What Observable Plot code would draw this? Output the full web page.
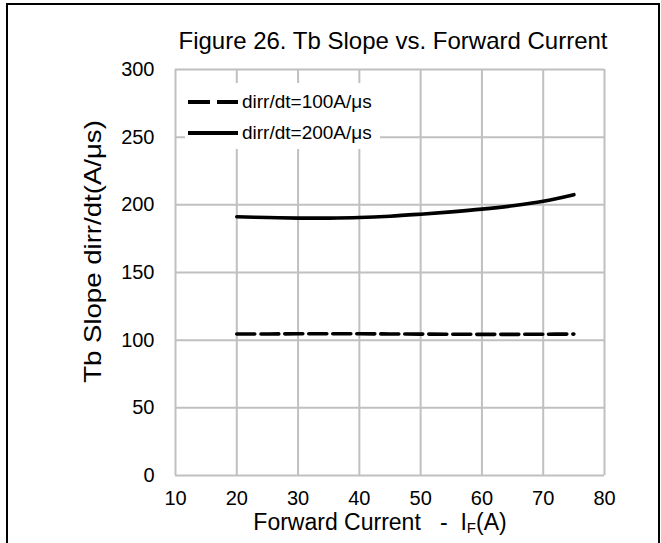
<!DOCTYPE html>
<html>
<head>
<meta charset="utf-8">
<script src="https://cdn.jsdelivr.net/npm/d3@7"></script>
<script src="https://cdn.jsdelivr.net/npm/@observablehq/plot@0.6"></script>
<style>
  html, body { margin: 0; padding: 0; background: #fff; overflow: hidden; }
  #wrap { position: relative; width: 661px; height: 543px; font-family: "Liberation Sans", Arial, sans-serif; }
  #border { position: absolute; left: 6px; top: 3px; width: 654px; height: 560px; border: 2px solid #000; box-sizing: border-box; pointer-events: none; }
  #legend { position: absolute; left: 185px; top: 83px; width: 195px; height: 66px; background: #fff; }
  #legend .row { position: absolute; left: 0; height: 20px; display: flex; align-items: center; font-size: 19px; color: #000; white-space: nowrap; }
  #legend svg { display: block; }
</style>
</head>
<body>
<div id="wrap">
  <div id="chart"></div>
  <div id="legend"></div>
  <div id="border"></div>
</div>
<script>
const title = "Figure 26. Tb Slope vs. Forward Current";
const xLabel = "Forward Current\u00a0\u00a0\u00a0-\u00a0\u00a0I";
const yLabel = "Tb Slope dirr/dt(A/\u03bcs)";
const xTicks = [10, 20, 30, 40, 50, 60, 70, 80];
const yTicks = [0, 50, 100, 150, 200, 250, 300];
const current = [20, 25, 30, 35, 40, 45, 50, 55, 60, 65, 70, 75];
const slope100 = [104.6, 104.6, 104.7, 104.7, 104.7, 104.6, 104.5, 104.4, 104.3, 104.3, 104.4, 104.5];
const slope200 = [191.2, 190.6, 190.2, 190.2, 190.6, 191.6, 193.1, 194.8, 196.8, 199.3, 202.6, 207.5];
const seriesNames = ["dirr/dt=100A/\u03bcs", "dirr/dt=200A/\u03bcs"];

const rows100 = current.map((x, i) => ({x, y: slope100[i]}));
const rows200 = current.map((x, i) => ({x, y: slope200[i]}));

const gridColor = "#c0c0c0";
const chart = Plot.plot({
  width: 661,
  height: 543,
  marginLeft: 175,
  marginRight: 57,
  marginTop: 69,
  marginBottom: 68,
  style: {fontFamily: "Liberation Sans, Arial, sans-serif", fontSize: "20px", color: "#000", background: "#fff"},
  x: {domain: [10, 80], ticks: xTicks, tickSize: 0, tickPadding: 15, label: null},
  y: {domain: [0, 300], ticks: yTicks, tickSize: 0, tickPadding: 21, label: null},
  marks: [
    Plot.gridX(xTicks, {stroke: gridColor, strokeOpacity: 1, strokeWidth: 2}),
    Plot.gridY(yTicks, {stroke: gridColor, strokeOpacity: 1, strokeWidth: 2}),
    Plot.line(rows100, {x: "x", y: "y", stroke: "#000", strokeWidth: 3.6, strokeDasharray: "18,6", curve: "catmull-rom"}),
    Plot.line(rows200, {x: "x", y: "y", stroke: "#000", strokeWidth: 3.6, curve: "catmull-rom"}),
    Plot.text([title], {frameAnchor: "top", dy: -38, dx: 3, fontSize: 24, fill: "#000"}),
    Plot.text([yLabel], {frameAnchor: "left", dx: -82, dy: -21, rotate: -90, fontSize: 23, fill: "#000", textAnchor: "middle"}),
    Plot.text([xLabel], {frameAnchor: "bottom", dy: 54, dx: -10, fontSize: 23, fill: "#000", textAnchor: "middle"})
  ]
});
document.getElementById("chart").appendChild(chart);

const texts = [...chart.querySelectorAll("text")];
// y label in the reference is drawn stretched along its length
const yl = texts.find(t => t.textContent === yLabel);
if (yl) {
  const tr = yl.getAttribute("transform") || "";
  yl.setAttribute("transform", tr + " scale(1.2,1)");
}
// subscript F + (A) appended to the x label
const xl = texts.find(t => t.textContent === xLabel);
if (xl) {
  const ns = "http://www.w3.org/2000/svg";
  const sub = document.createElementNS(ns, "tspan");
  sub.setAttribute("font-size", "15");
  sub.setAttribute("dy", "3");
  sub.textContent = "F";
  const rest = document.createElementNS(ns, "tspan");
  rest.setAttribute("dy", "-3");
  rest.textContent = "(A)";
  xl.appendChild(sub);
  xl.appendChild(rest);
}

const legend = document.getElementById("legend");
const dashes = ["22,7", null];
seriesNames.forEach((name, i) => {
  const row = document.createElement("div");
  row.className = "row";
  row.style.top = (9 + i * 31) + "px";
  const dash = dashes[i] ? `stroke-dasharray="${dashes[i]}"` : "";
  row.innerHTML = `<svg width="57" height="20"><line x1="3" y1="10" x2="53" y2="10" stroke="#000" stroke-width="4" ${dash}/></svg><span>${name}</span>`;
  legend.appendChild(row);
});
</script>
</body>
</html>
